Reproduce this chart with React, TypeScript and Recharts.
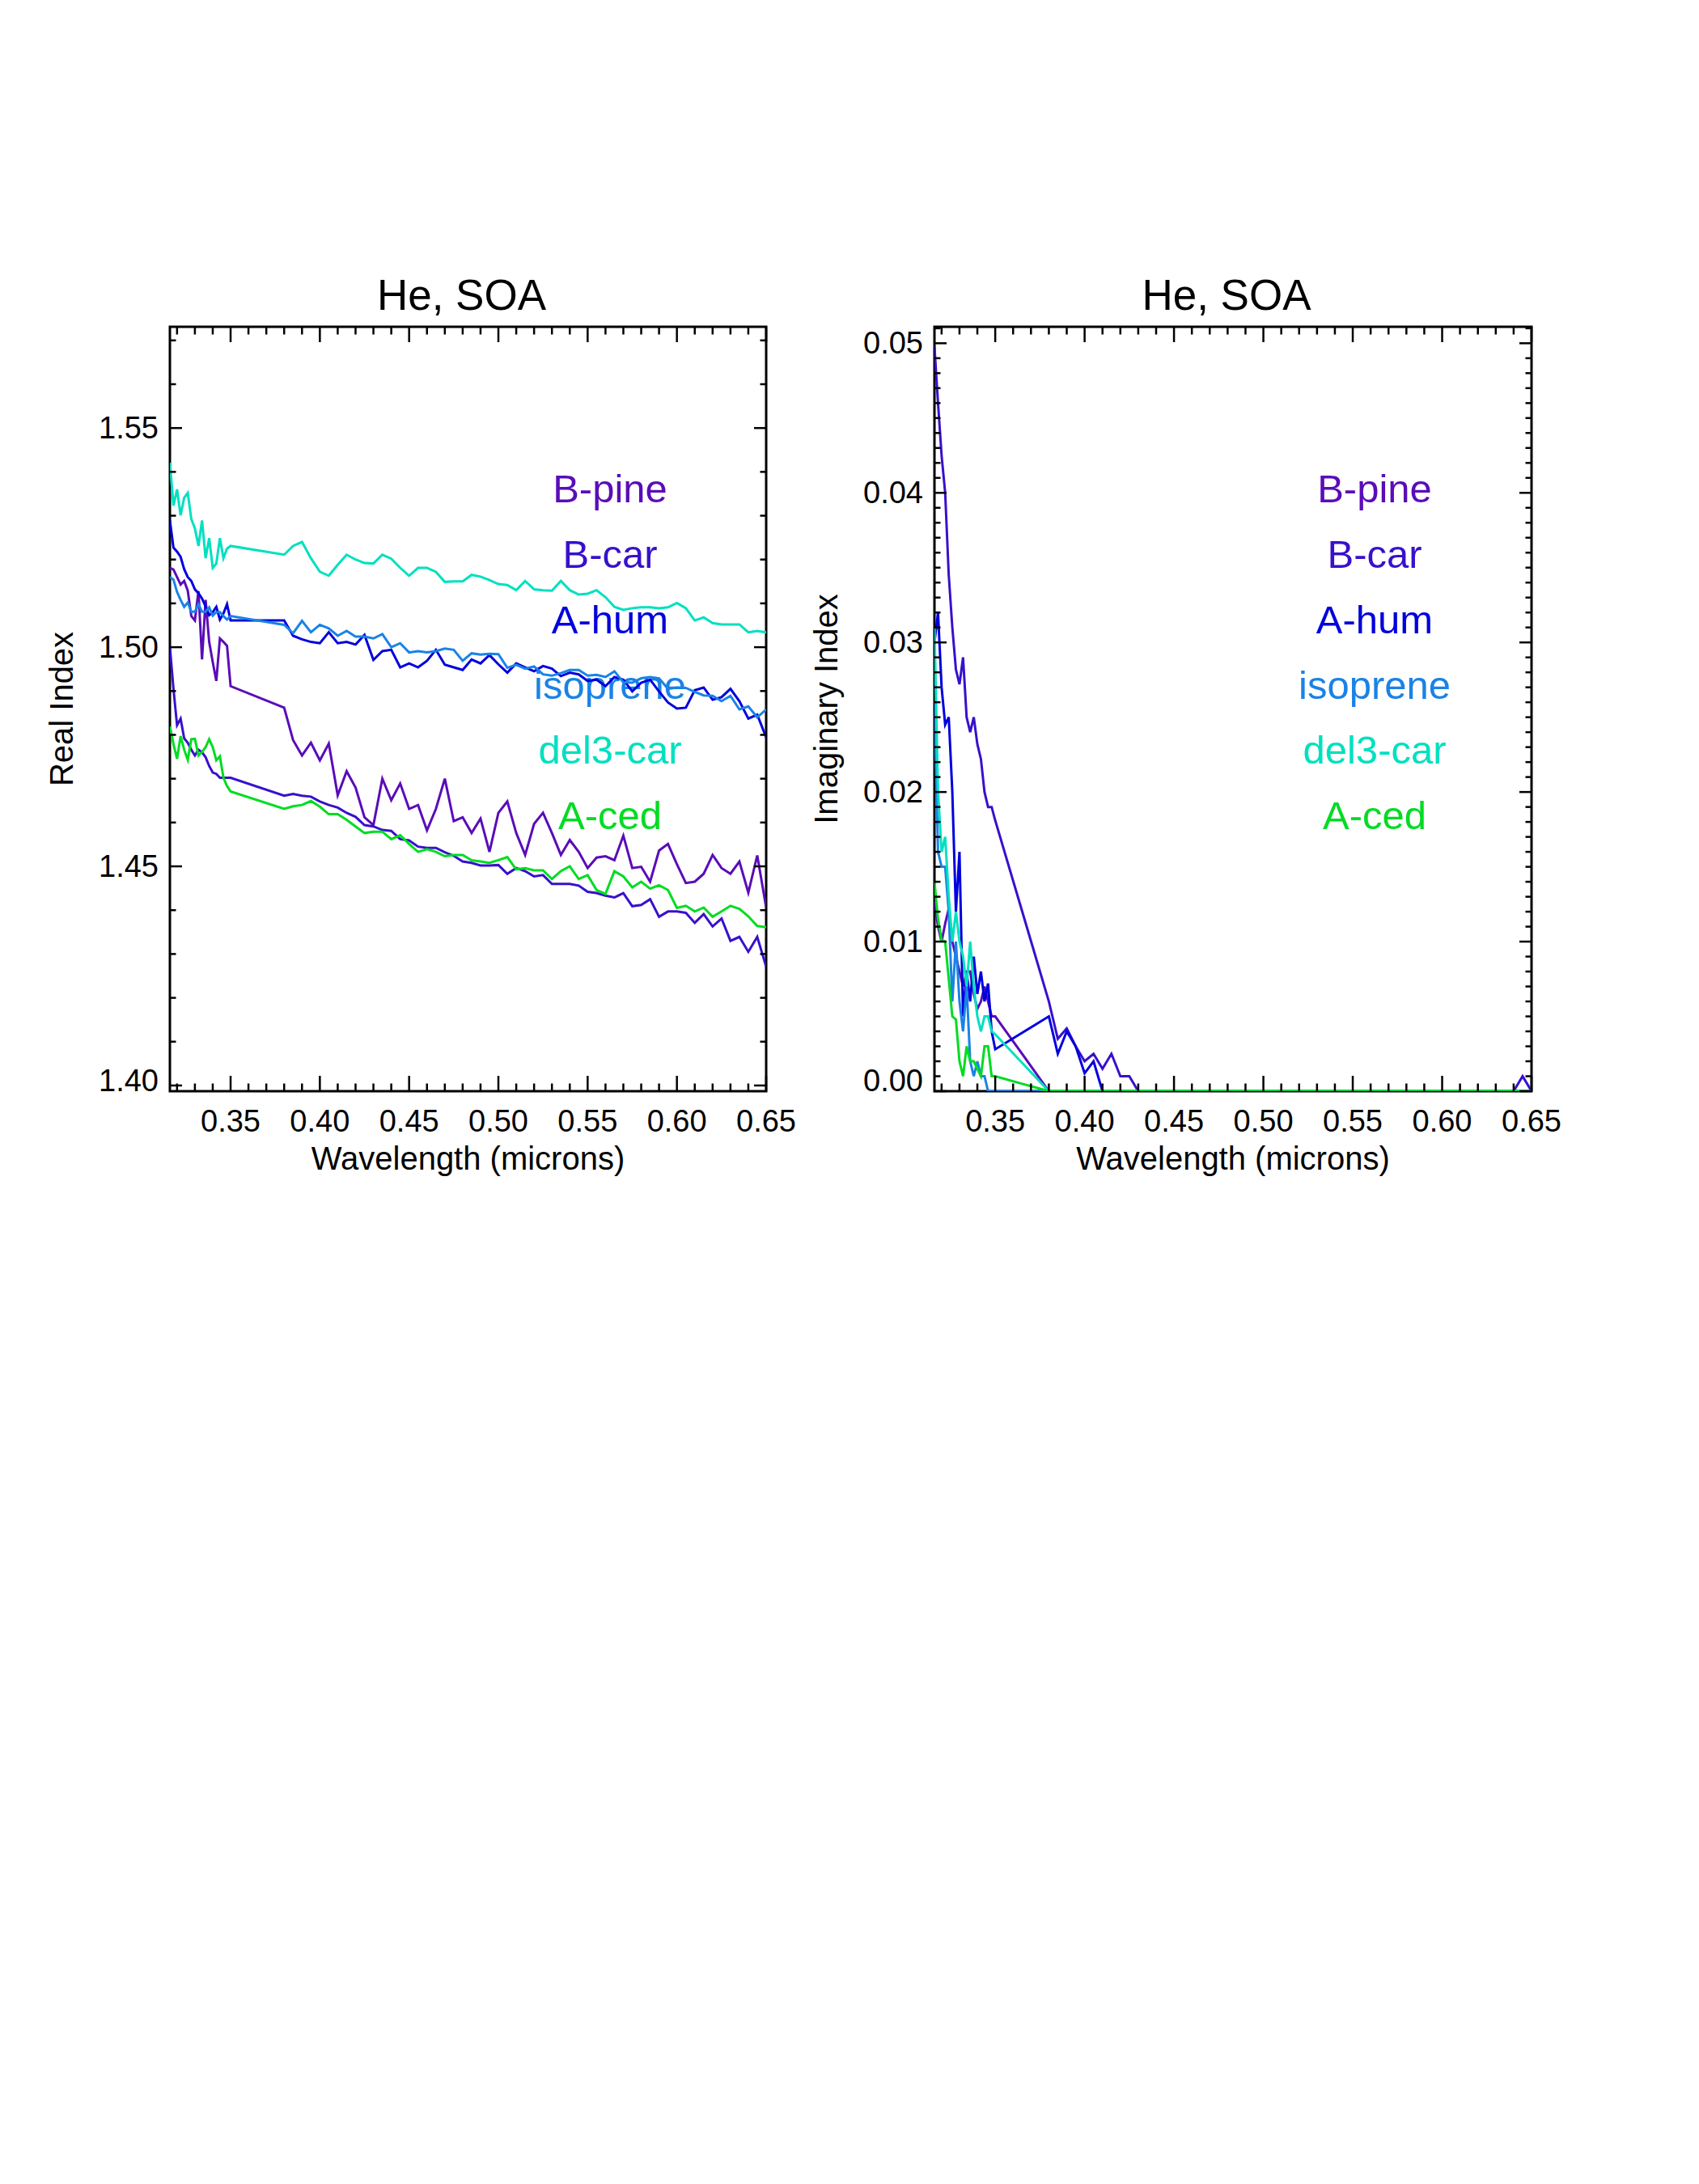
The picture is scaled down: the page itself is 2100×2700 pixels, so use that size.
import React from 'react';
import { LineChart, Line, XAxis, YAxis } from 'recharts';

// wavelength grid in microns: dense UV block, a gap, then the visible block
const wavelength = [
  0.316, 0.318, 0.320, 0.322, 0.324, 0.326, 0.328, 0.330, 0.332, 0.334, 0.336, 0.338, 0.340, 0.342, 0.344, 0.346, 0.348, 0.350,
  0.380, 0.385, 0.390, 0.395, 0.400, 0.405, 0.410, 0.415, 0.420, 0.425, 0.430, 0.435, 0.440, 0.445, 0.450, 0.455, 0.460, 0.465, 0.470, 0.475, 0.480,
  0.485, 0.490, 0.495, 0.500, 0.505, 0.510, 0.515, 0.520, 0.525, 0.530, 0.535, 0.540, 0.545, 0.550, 0.555, 0.560, 0.565, 0.570, 0.575, 0.580, 0.585, 0.590, 0.595, 0.600, 0.605, 0.610, 0.615, 0.620, 0.625, 0.630, 0.635, 0.640, 0.645, 0.650,
];

const seriesNames = ['B-pine', 'B-car', 'A-hum', 'isoprene', 'del3-car', 'A-ced'];
const seriesColors = ['#5a0cb8', '#3810cc', '#0000dc', '#1a82e6', '#00e0c0', '#00dc22'];

// real part of the refractive index
const bPineReal = [
  1.5181, 1.5177, 1.5160, 1.5143, 1.5151, 1.5129, 1.5071, 1.5061, 1.5128, 1.4972, 1.5108, 1.5012, 1.4966, 1.4923, 1.5020, 1.5012, 1.5003, 1.4911,
  1.4862, 1.4788, 1.4753, 1.4782, 1.4742, 1.4780, 1.4662, 1.4717, 1.4680, 1.4612, 1.4594, 1.4700, 1.4651, 1.4689, 1.4631, 1.4640, 1.4582, 1.4631, 1.4700, 1.4603, 1.4612,
  1.4576, 1.4609, 1.4533, 1.4622, 1.4648, 1.4576, 1.4526, 1.4597, 1.4622, 1.4576, 1.4526, 1.4560, 1.4533, 1.4496, 1.4520, 1.4523, 1.4514, 1.4570, 1.4496, 1.4499, 1.4465, 1.4536, 1.4551, 1.4505, 1.4462, 1.4465, 1.4483, 1.4526, 1.4496, 1.4483, 1.4511, 1.4440, 1.4525, 1.4406,
];
const bCarReal = [
  1.5001, 1.4905, 1.4822, 1.4837, 1.4792, 1.4782, 1.4766, 1.4753, 1.4766, 1.4760, 1.4749, 1.4729, 1.4714, 1.4711, 1.4702, 1.4702, 1.4702, 1.4702,
  1.4661, 1.4665, 1.4661, 1.4659, 1.4648, 1.4640, 1.4634, 1.4622, 1.4613, 1.4594, 1.4591, 1.4583, 1.4581, 1.4562, 1.4559, 1.4545, 1.4542, 1.4542, 1.4532, 1.4524, 1.4511,
  1.4508, 1.4502, 1.4502, 1.4503, 1.4483, 1.4496, 1.4489, 1.4477, 1.4480, 1.4460, 1.4460, 1.4460, 1.4456, 1.4442, 1.4439, 1.4433, 1.4429, 1.4439, 1.4409, 1.4412, 1.4425, 1.4385, 1.4397, 1.4397, 1.4394, 1.4371, 1.4391, 1.4363, 1.4381, 1.4330, 1.4339, 1.4305, 1.4339, 1.4271,
];
const aHumReal = [
  1.5289, 1.5227, 1.5218, 1.5206, 1.5178, 1.5160, 1.5151, 1.5132, 1.5123, 1.5111, 1.5093, 1.5073, 1.5080, 1.5092, 1.5063, 1.5077, 1.5098, 1.5061,
  1.5061, 1.5026, 1.5018, 1.5012, 1.5009, 1.5034, 1.5009, 1.5012, 1.5006, 1.5028, 1.4971, 1.4991, 1.4994, 1.4954, 1.4963, 1.4954, 1.4969, 1.4994, 1.4960, 1.4954, 1.4948,
  1.4972, 1.4963, 1.4982, 1.4961, 1.4942, 1.4963, 1.4954, 1.4945, 1.4957, 1.4951, 1.4934, 1.4942, 1.4938, 1.4923, 1.4926, 1.4911, 1.4932, 1.4926, 1.4899, 1.4919, 1.4926, 1.4899, 1.4874, 1.4860, 1.4862, 1.4902, 1.4908, 1.4880, 1.4886, 1.4905, 1.4877, 1.4837, 1.4846, 1.4794,
];
const isopreneReal = [
  1.5160, 1.5154, 1.5126, 1.5108, 1.5092, 1.5102, 1.5081, 1.5081, 1.5098, 1.5081, 1.5081, 1.5091, 1.5072, 1.5080, 1.5080, 1.5071, 1.5063, 1.5071,
  1.5051, 1.5032, 1.5060, 1.5034, 1.5051, 1.5043, 1.5026, 1.5037, 1.5024, 1.5024, 1.5020, 1.5030, 1.5000, 1.5009, 1.4988, 1.4991, 1.4988, 1.4991, 1.4997, 1.4994, 1.4969,
  1.4986, 1.4983, 1.4985, 1.4984, 1.4953, 1.4960, 1.4951, 1.4956, 1.4938, 1.4935, 1.4941, 1.4948, 1.4948, 1.4935, 1.4937, 1.4932, 1.4945, 1.4920, 1.4919, 1.4929, 1.4932, 1.4929, 1.4905, 1.4908, 1.4907, 1.4898, 1.4890, 1.4889, 1.4877, 1.4889, 1.4858, 1.4865, 1.4840, 1.4858,
];
const del3CarReal = [
  1.5421, 1.5323, 1.5360, 1.5301, 1.5341, 1.5352, 1.5292, 1.5271, 1.5231, 1.5289, 1.5203, 1.5249, 1.5181, 1.5191, 1.5249, 1.5203, 1.5225, 1.5231,
  1.5211, 1.5231, 1.5240, 1.5203, 1.5172, 1.5163, 1.5188, 1.5211, 1.5200, 1.5192, 1.5191, 1.5211, 1.5202, 1.5181, 1.5163, 1.5181, 1.5181, 1.5172, 1.5149, 1.5150, 1.5150,
  1.5165, 1.5161, 1.5153, 1.5144, 1.5142, 1.5130, 1.5151, 1.5132, 1.5130, 1.5129, 1.5151, 1.5130, 1.5120, 1.5122, 1.5130, 1.5114, 1.5092, 1.5085, 1.5089, 1.5091, 1.5091, 1.5089, 1.5091, 1.5101, 1.5089, 1.5061, 1.5068, 1.5055, 1.5052, 1.5052, 1.5052, 1.5034, 1.5037, 1.5034,
];
const aCedReal = [
  1.4819, 1.4779, 1.4745, 1.4797, 1.4766, 1.4743, 1.4790, 1.4791, 1.4753, 1.4761, 1.4772, 1.4790, 1.4772, 1.4742, 1.4751, 1.4702, 1.4683, 1.4671,
  1.4631, 1.4637, 1.4640, 1.4649, 1.4636, 1.4619, 1.4619, 1.4606, 1.4591, 1.4576, 1.4579, 1.4579, 1.4562, 1.4571, 1.4551, 1.4533, 1.4539, 1.4533, 1.4523, 1.4526, 1.4526,
  1.4514, 1.4511, 1.4508, 1.4514, 1.4521, 1.4493, 1.4496, 1.4491, 1.4491, 1.4471, 1.4489, 1.4500, 1.4471, 1.4480, 1.4446, 1.4437, 1.4489, 1.4477, 1.4452, 1.4465, 1.4449, 1.4457, 1.4446, 1.4405, 1.4410, 1.4397, 1.4406, 1.4385, 1.4397, 1.4410, 1.4403, 1.4386, 1.4364, 1.4361,
];

// imaginary part
const bPineImag = [
  0.0127, 0.0110, 0.0100, 0.0112, 0.0122, 0.0100, 0.0090, 0.0080, 0.0070, 0.0080, 0.0080, 0.0065, 0.0055, 0.0060, 0.0070, 0.0060, 0.0050, 0.0050,
  0, 0, 0, 0, 0, 0, 0, 0, 0, 0, 0, 0, 0, 0, 0, 0, 0, 0, 0, 0, 0,
  0, 0, 0, 0, 0, 0, 0, 0, 0, 0, 0, 0, 0, 0, 0, 0, 0, 0, 0, 0, 0, 0, 0, 0, 0, 0, 0, 0, 0, 0, 0, 0, 0, 0,
];
const bCarImag = [
  0.0498, 0.0460, 0.0425, 0.0400, 0.0345, 0.0310, 0.0282, 0.0272, 0.0290, 0.0250, 0.0240, 0.0250, 0.0232, 0.0222, 0.0200, 0.0190, 0.0190, 0.0181,
  0.0060, 0.0035, 0.0042, 0.0030, 0.0020, 0.0025, 0.0015, 0.0025, 0.0010, 0.0010, 0, 0, 0, 0, 0, 0, 0, 0, 0, 0, 0,
  0, 0, 0, 0, 0, 0, 0, 0, 0, 0, 0, 0, 0, 0, 0, 0, 0, 0, 0, 0, 0, 0, 0, 0, 0, 0, 0, 0, 0, 0, 0, 0, 0.0010, 0,
];
const aHumImag = [
  0.0300, 0.0320, 0.0270, 0.0245, 0.0250, 0.0200, 0.0120, 0.0160, 0.0050, 0.0080, 0.0060, 0.0090, 0.0065, 0.0080, 0.0060, 0.0072, 0.0040, 0.0028,
  0.0050, 0.0025, 0.0040, 0.0030, 0.0012, 0.0020, 0, 0, 0, 0, 0, 0, 0, 0, 0, 0, 0, 0, 0, 0, 0,
  0, 0, 0, 0, 0, 0, 0, 0, 0, 0, 0, 0, 0, 0, 0, 0, 0, 0, 0, 0, 0, 0, 0, 0, 0, 0, 0, 0, 0, 0, 0, 0, 0, 0,
];
const isopreneImag = [
  0.0260, 0.0160, 0.0150, 0.0150, 0.0120, 0.0060, 0.0100, 0.0060, 0.0040, 0.0070, 0.0020, 0.0010, 0.0020, 0.0010, 0.0010, 0, 0, 0,
  0, 0, 0, 0, 0, 0, 0, 0, 0, 0, 0, 0, 0, 0, 0, 0, 0, 0, 0, 0, 0,
  0, 0, 0, 0, 0, 0, 0, 0, 0, 0, 0, 0, 0, 0, 0, 0, 0, 0, 0, 0, 0, 0, 0, 0, 0, 0, 0, 0, 0, 0, 0, 0, 0, 0,
];
const del3CarImag = [
  0.0310, 0.0200, 0.0160, 0.0170, 0.0130, 0.0100, 0.0120, 0.0100, 0.0090, 0.0070, 0.0100, 0.0070, 0.0050, 0.0040, 0.0050, 0.0050, 0.0040, 0.0038,
  0, 0, 0, 0, 0, 0, 0, 0, 0, 0, 0, 0, 0, 0, 0, 0, 0, 0, 0, 0, 0,
  0, 0, 0, 0, 0, 0, 0, 0, 0, 0, 0, 0, 0, 0, 0, 0, 0, 0, 0, 0, 0, 0, 0, 0, 0, 0, 0, 0, 0, 0, 0, 0, 0, 0,
];
const aCedImag = [
  0.0140, 0.0115, 0.0101, 0.0100, 0.0075, 0.0050, 0.0048, 0.0020, 0.0010, 0.0030, 0.0020, 0.0020, 0.0015, 0.0010, 0.0030, 0.0030, 0.0010, 0.0010,
  0, 0, 0, 0, 0, 0, 0, 0, 0, 0, 0, 0, 0, 0, 0, 0, 0, 0, 0, 0, 0,
  0, 0, 0, 0, 0, 0, 0, 0, 0, 0, 0, 0, 0, 0, 0, 0, 0, 0, 0, 0, 0, 0, 0, 0, 0, 0, 0, 0, 0, 0, 0, 0, 0, 0,
];

// axis ticks
const xMajorTicks = [0.35, 0.40, 0.45, 0.50, 0.55, 0.60, 0.65];
const realMajorTicks = [1.40, 1.45, 1.50, 1.55];
const imagMajorTicks = [0.00, 0.01, 0.02, 0.03, 0.04, 0.05];

const steps = (start: number, end: number, step: number) => {
  const out: number[] = [];
  for (let i = 0; start + i * step <= end + 1e-9; i++) out.push(+(start + i * step).toFixed(4));
  return out;
};
const xTicks = steps(0.32, 0.65, 0.01);
const realTicks = steps(1.40, 1.57, 0.01);
const imagTicks = steps(0, 0.051, 0.001);

const isMajor = (v: number, majors: number[]) => majors.some(m => Math.abs(m - v) < 1e-6);

const buildRows = (cols: number[][]) =>
  wavelength.map((wl, i) => {
    const row: Record<string, number> = { wl };
    cols.forEach((c, k) => { row[`s${k}`] = c[i]; });
    return row;
  });

const realRows = buildRows([bPineReal, bCarReal, aHumReal, isopreneReal, del3CarReal, aCedReal]);
const imagRows = buildRows([bPineImag, bCarImag, aHumImag, isopreneImag, del3CarImag, aCedImag]);

const FONT = '"Liberation Sans", Arial, Helvetica, sans-serif';
const CHART_W = 1000;
const CHART_H = 1500;
const PLOT_TOP = 404;
const X_AXIS_H = 151;
const LEGEND_BASE = [621, 702, 783, 864, 944, 1025];

type Box = { left: number; right: number; top: number; bottom: number };

interface PanelProps {
  offset: number;
  yAxisWidth: number;
  marginRight: number;
  rows: Record<string, number>[];
  yDomain: [number, number];
  yTicks: number[];
  yMajor: number[];
}

const Panel: React.FC<PanelProps> = ({ offset, yAxisWidth, marginRight, rows, yDomain, yTicks, yMajor }) => {
  const box: Box = { left: yAxisWidth, right: CHART_W - marginRight, top: PLOT_TOP, bottom: CHART_H - X_AXIS_H };

  const xTick = (props: any) => {
    const { x, payload } = props;
    const major = isMajor(payload.value, xMajorTicks);
    const len = major ? 19 : 9.5;
    return (
      <g>
        <line x1={x} x2={x} y1={box.bottom} y2={box.bottom - len} stroke="#000" strokeWidth={2.5} />
        <line x1={x} x2={x} y1={box.top} y2={box.top + len} stroke="#000" strokeWidth={2.5} />
        {major && (
          <text x={x} y={box.bottom + 50} textAnchor="middle" fontSize={38} fontFamily={FONT} fill="#000">
            {payload.value.toFixed(2)}
          </text>
        )}
      </g>
    );
  };

  const yTick = (props: any) => {
    const { y, payload } = props;
    const major = isMajor(payload.value, yMajor);
    const len = major ? 15 : 7.5;
    const labelY = Math.min(y, box.bottom - 13);
    return (
      <g>
        <line x1={box.left} x2={box.left + len} y1={y} y2={y} stroke="#000" strokeWidth={2.5} />
        <line x1={box.right} x2={box.right - len} y1={y} y2={y} stroke="#000" strokeWidth={2.5} />
        {major && (
          <text x={box.left - 14} y={labelY + 13} textAnchor="end" fontSize={38} fontFamily={FONT} fill="#000">
            {payload.value.toFixed(2)}
          </text>
        )}
      </g>
    );
  };

  return (
    <div style={{ position: 'absolute', left: offset, top: 0, width: CHART_W, height: CHART_H }}>
      <LineChart width={CHART_W} height={CHART_H} data={rows} margin={{ top: PLOT_TOP, right: marginRight, left: 0, bottom: 0 }}>
        <XAxis
          dataKey="wl"
          type="number"
          domain={[0.316, 0.65]}
          allowDataOverflow
          ticks={xTicks}
          interval={0}
          height={X_AXIS_H}
          axisLine={false}
          tickLine={false}
          tickSize={0}
          tickMargin={0}
          tick={xTick}
        />
        <YAxis
          type="number"
          domain={yDomain}
          allowDataOverflow
          ticks={yTicks}
          interval={0}
          width={yAxisWidth}
          axisLine={false}
          tickLine={false}
          tickSize={0}
          tickMargin={0}
          tick={yTick}
        />
        {seriesNames.map((name, k) => (
          <Line
            key={name}
            type="linear"
            dataKey={`s${k}`}
            stroke={seriesColors[k]}
            strokeWidth={3}
            dot={false}
            isAnimationActive={false}
          />
        ))}
      </LineChart>
    </div>
  );
};

const panels = [
  { offset: 0, yAxisWidth: 210, marginRight: 53, yLabel: 'Real Index' },
  { offset: 1000, yAxisWidth: 155, marginRight: 107, yLabel: 'Imaginary Index' },
];

const App: React.FC = () => {
  return (
    <div style={{ position: 'absolute', left: 0, top: 0, width: 2100, height: 2700, background: '#fff' }}>
      <svg width={2100} height={2700} style={{ position: 'absolute', left: 0, top: 0 }}>
        {panels.map(p => {
          const left = p.offset + p.yAxisWidth;
          const right = p.offset + CHART_W - p.marginRight;
          const bottom = CHART_H - X_AXIS_H;
          const cx = (left + right) / 2;
          const cy = (PLOT_TOP + bottom) / 2;
          return (
            <g key={p.yLabel} fontFamily={FONT}>
              <rect x={left} y={PLOT_TOP} width={right - left} height={bottom - PLOT_TOP} fill="none" stroke="#000" strokeWidth={3} />
              <text x={cx - 8} y={383} textAnchor="middle" fontSize={53} fill="#000">He, SOA</text>
              <text x={cx} y={1446} textAnchor="middle" fontSize={40} fill="#000">Wavelength (microns)</text>
              <text
                x={left - 120}
                y={cy}
                textAnchor="middle"
                fontSize={40}
                fill="#000"
                transform={`rotate(-90 ${left - 120} ${cy})`}
              >
                {p.yLabel}
              </text>
              {seriesNames.map((name, k) => (
                <text key={name} x={left + 544} y={LEGEND_BASE[k]} textAnchor="middle" fontSize={49} fill={seriesColors[k]}>
                  {name}
                </text>
              ))}
            </g>
          );
        })}
      </svg>
      <Panel offset={0} yAxisWidth={210} marginRight={53} rows={realRows} yDomain={[1.3987, 1.5731]} yTicks={realTicks} yMajor={realMajorTicks} />
      <Panel offset={1000} yAxisWidth={155} marginRight={107} rows={imagRows} yDomain={[0, 0.0511]} yTicks={imagTicks} yMajor={imagMajorTicks} />
    </div>
  );
};

export default App;
